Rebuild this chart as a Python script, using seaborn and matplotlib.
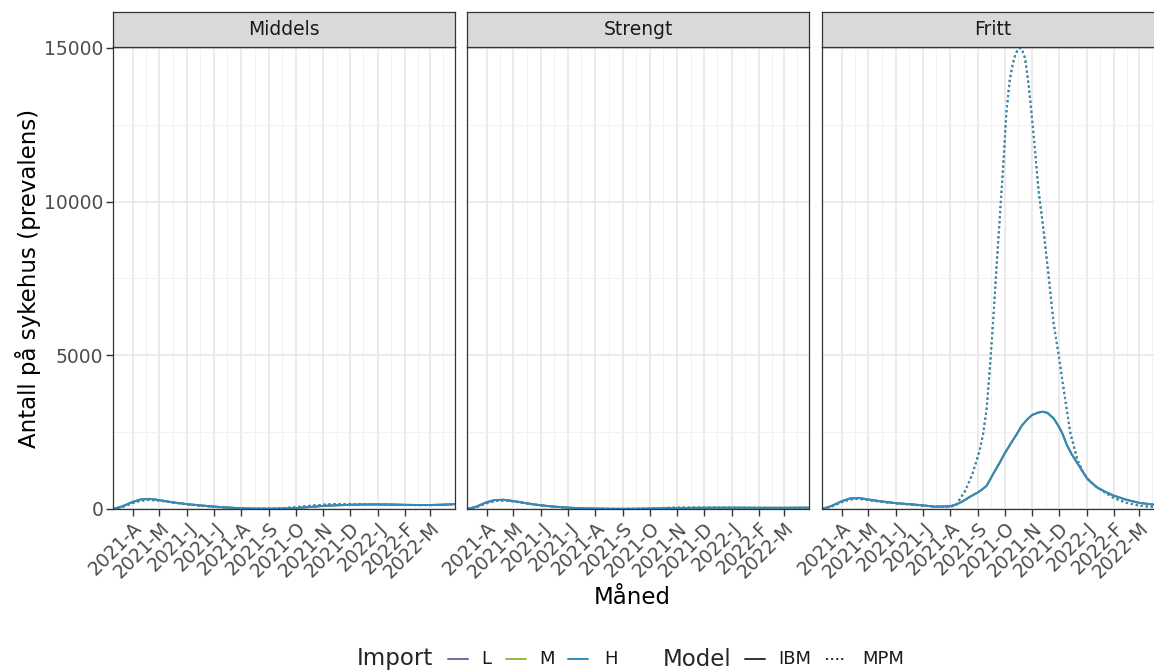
import matplotlib
matplotlib.use("Agg")
import numpy as np
import pandas as pd
import seaborn as sns
import matplotlib.pyplot as plt
import matplotlib.dates as mdates
from matplotlib.lines import Line2D
from matplotlib.ticker import FixedLocator, FixedFormatter

sns.set_theme(style="white")
plt.rcParams["font.family"] = ["DejaVu Sans"]

# ---- data -------------------------------------------------------------
scenarios = ["Middels", "Strengt", "Fritt"]
import_levels = ["L", "M", "H"]
import_colors = ["#6f6a9c", "#93b83c", "#3288c4"]
models = ["IBM", "MPM"]

base_dates = ["2021-03-10", "2021-03-20", "2021-04-01", "2021-04-10", "2021-04-20",
              "2021-05-01", "2021-05-15", "2021-06-01", "2021-06-15", "2021-07-01",
              "2021-07-15", "2021-08-01", "2021-08-15", "2021-09-01", "2021-09-15",
              "2021-10-01", "2021-10-15", "2021-11-01", "2021-11-15", "2021-12-01",
              "2021-12-15", "2022-01-01", "2022-01-15", "2022-02-01", "2022-02-15",
              "2022-03-01", "2022-03-15", "2022-03-29"]

middels_ibm = [0, 80, 230, 310, 330, 290, 220, 160, 120, 80, 50, 25, 12, 8, 12,
               30, 60, 100, 120, 135, 145, 150, 145, 135, 130, 130, 140, 160]
middels_mpm = [0, 60, 190, 270, 295, 270, 215, 150, 110, 70, 45, 20, 10, 10, 25,
               60, 100, 140, 160, 165, 160, 150, 140, 130, 125, 125, 135, 150]

strengt_ibm = [0, 70, 220, 290, 300, 260, 190, 120, 80, 45, 25, 12, 6, 4, 5,
               10, 20, 30, 35, 38, 40, 40, 40, 38, 38, 38, 40, 42]
strengt_mpm = [0, 55, 185, 260, 275, 245, 185, 115, 75, 40, 22, 10, 5, 5, 8,
               20, 35, 45, 48, 48, 45, 42, 40, 38, 36, 36, 38, 40]

fritt_ibm_dates = ["2021-03-10", "2021-03-20", "2021-04-01", "2021-04-10", "2021-04-20",
                   "2021-05-01", "2021-05-15", "2021-06-01", "2021-06-15", "2021-07-01",
                   "2021-07-15", "2021-08-01", "2021-08-08", "2021-08-15", "2021-08-22",
                   "2021-09-01", "2021-09-06", "2021-09-11", "2021-09-18", "2021-09-25",
                   "2021-10-01", "2021-10-08", "2021-10-15", "2021-10-20", "2021-10-26",
                   "2021-11-01", "2021-11-08", "2021-11-13", "2021-11-18", "2021-11-25",
                   "2021-12-01", "2021-12-05", "2021-12-10", "2021-12-15", "2021-12-22",
                   "2021-12-28", "2022-01-02", "2022-01-08", "2022-01-13", "2022-01-22",
                   "2022-02-01", "2022-02-15", "2022-03-01", "2022-03-15", "2022-03-29"]
fritt_ibm = [0, 90, 250, 340, 360, 310, 250, 190, 160, 120, 75, 90, 150, 250, 380,
             540, 640, 760, 1130, 1480, 1800, 2130, 2450, 2700, 2900, 3060, 3140,
             3165, 3130, 2950, 2680, 2450, 2080, 1800, 1480, 1200, 980, 820, 700,
             560, 430, 300, 200, 150, 110]

fritt_mpm_dates = ["2021-03-10", "2021-03-20", "2021-04-01", "2021-04-10", "2021-04-20",
                   "2021-05-01", "2021-05-15", "2021-06-01", "2021-06-15", "2021-07-01",
                   "2021-07-15", "2021-08-01", "2021-08-07", "2021-08-18", "2021-08-26",
                   "2021-09-03", "2021-09-07", "2021-09-11", "2021-09-14", "2021-09-18",
                   "2021-09-22", "2021-09-26", "2021-09-30", "2021-10-03", "2021-10-07",
                   "2021-10-10", "2021-10-13", "2021-10-16", "2021-10-19", "2021-10-21",
                   "2021-10-24", "2021-10-28", "2021-11-03", "2021-11-08", "2021-11-14",
                   "2021-11-19", "2021-11-25", "2021-12-01", "2021-12-07", "2021-12-14",
                   "2021-12-22", "2021-12-29", "2022-01-05", "2022-01-13", "2022-02-01",
                   "2022-02-15", "2022-03-01", "2022-03-15", "2022-03-29"]
fritt_mpm = [0, 70, 220, 310, 330, 290, 235, 180, 150, 110, 75, 80, 110, 600, 1150,
             1900, 2450, 3300, 4400, 6050, 7900, 9650, 11400, 12900, 14000, 14450,
             14780, 14950, 15000, 14900, 14670, 13800, 12050, 10400, 9000, 7700,
             6050, 4960, 3760, 2450, 1580, 1150, 900, 700, 350, 200, 110, 70, 50]

month_ticks = ["2021-04-01", "2021-05-01", "2021-06-01", "2021-07-01", "2021-08-01",
               "2021-09-01", "2021-10-01", "2021-11-01", "2021-12-01", "2022-01-01",
               "2022-02-01", "2022-03-01"]
month_labels = ["2021-A", "2021-M", "2021-J", "2021-J", "2021-A", "2021-S",
                "2021-O", "2021-N", "2021-D", "2022-J", "2022-F", "2022-M"]

y_ticks = [0, 5000, 10000, 15000]
y_minor = [2500, 7500, 12500]

series = {
    ("Middels", "IBM"): (base_dates, middels_ibm),
    ("Middels", "MPM"): (base_dates, middels_mpm),
    ("Strengt", "IBM"): (base_dates, strengt_ibm),
    ("Strengt", "MPM"): (base_dates, strengt_mpm),
    ("Fritt", "IBM"): (fritt_ibm_dates, fritt_ibm),
    ("Fritt", "MPM"): (fritt_mpm_dates, fritt_mpm),
}

rows = []
for (scen, model), (dates, vals) in series.items():
    for imp in import_levels:
        for d, v in zip(dates, vals):
            rows.append({"Scenario": scen, "Model": model, "Import": imp,
                         "Date": pd.Timestamp(d), "Value": v})
df = pd.DataFrame(rows)

# ---- figure -----------------------------------------------------------
W, H = 1154, 670
fig = plt.figure(figsize=(W / 100, H / 100), dpi=100)
fig.patch.set_facecolor("white")


def fx(px):
    return px / W


def fy(py):
    return 1 - py / H


panel_left = [113, 467, 822]
panel_w = 342
panel_top, panel_bottom = 47, 509
strip_top = 12

x_lo, x_hi = pd.Timestamp("2021-03-10"), pd.Timestamp("2022-03-29")
major_num = mdates.date2num(pd.to_datetime(month_ticks))
minor_num = mdates.date2num(pd.date_range("2021-03-16", "2022-03-16", freq="MS")
                            + pd.Timedelta(days=15))

palette = dict(zip(import_levels, import_colors))
dash_map = {"IBM": "", "MPM": (1.1, 1.5)}
txt_grey = "#4d4d4d"
frame = "#333333"

for i, scen in enumerate(scenarios):
    left = panel_left[i]
    ax = fig.add_axes([fx(left), fy(panel_bottom), fx(panel_w),
                       (panel_bottom - panel_top) / H])
    ax.set_facecolor("white")

    # grid
    for m in minor_num:
        ax.axvline(m, color="#f0f0f0", lw=0.6, zorder=0)
    for m in major_num:
        ax.axvline(m, color="#e8e8e8", lw=1.2, zorder=0)
    for yv in y_minor:
        ax.axhline(yv, color="#f0f0f0", lw=0.6, zorder=0)
    for yv in y_ticks:
        ax.axhline(yv, color="#e8e8e8", lw=1.2, zorder=0)

    sub = df[df["Scenario"] == scen]
    sns.lineplot(data=sub, x="Date", y="Value", hue="Import", style="Model",
                 hue_order=import_levels, style_order=models, palette=palette,
                 dashes=dash_map, lw=1.4, legend=False, ax=ax, zorder=3)

    ax.set_xlim(mdates.date2num(x_lo), mdates.date2num(x_hi))
    ax.set_ylim(0, 15030)
    ax.xaxis.set_major_locator(FixedLocator(major_num))
    ax.xaxis.set_major_formatter(FixedFormatter(month_labels))
    ax.xaxis.set_minor_locator(FixedLocator([]))
    ax.tick_params(axis="x", length=5, width=1.0, color=frame, labelsize=13.5,
                   labelcolor=txt_grey, pad=2, bottom=True)
    for lab in ax.get_xticklabels():
        lab.set_rotation(45)
        lab.set_ha("right")
        lab.set_va("top")
        lab.set_rotation_mode("anchor")
    ax.set_xlabel("")
    ax.set_ylabel("")
    if i == 0:
        ax.set_yticks(y_ticks)
        ax.set_yticklabels([str(v) for v in y_ticks])
        ax.tick_params(axis="y", length=5, width=1.0, color=frame, labelsize=13.5,
                       labelcolor=txt_grey, pad=2, left=True)
    else:
        ax.set_yticks([])
    for sp in ax.spines.values():
        sp.set_color(frame)
        sp.set_linewidth(0.9)
        sp.set_zorder(5)

    # facet strip
    sax = fig.add_axes([fx(left), fy(panel_top), fx(panel_w),
                        (panel_top - strip_top) / H])
    sax.set_facecolor("#d9d9d9")
    sax.set_xticks([])
    sax.set_yticks([])
    for sp in sax.spines.values():
        sp.set_color(frame)
        sp.set_linewidth(0.9)
    sax.text(0.5, 0.5, scen, ha="center", va="center", fontsize=13.5,
             color="#1a1a1a", transform=sax.transAxes)

# axis titles
fig.text(fx(28), fy(278), "Antall på sykehus (prevalens)", rotation=90,
         ha="center", va="center", fontsize=16.5, color="black")
fig.text(fx(632), fy(598), "Måned", ha="center", va="center", fontsize=16.5,
         color="black")

# legend
ly = fy(659)
fig.text(fx(357), ly, "Import", ha="left", va="center", fontsize=16.5)
key_x = [448, 506, 568]
lab_x = [481, 539, 604]
for kx, tx, lab, col in zip(key_x, lab_x, import_levels, import_colors):
    fig.add_artist(Line2D([fx(kx), fx(kx + 20)], [ly, ly], color=col, lw=1.4,
                          transform=fig.transFigure))
    fig.text(fx(tx), ly, lab, ha="left", va="center", fontsize=13, color="#1a1a1a")

fig.text(fx(663), ly, "Model", ha="left", va="center", fontsize=16.5)
fig.add_artist(Line2D([fx(745), fx(765)], [ly, ly], color="#333333", lw=1.4,
                      transform=fig.transFigure))
fig.text(fx(778), ly, "IBM", ha="left", va="center", fontsize=13, color="#1a1a1a")
fig.add_artist(Line2D([fx(826), fx(846)], [ly, ly], color="#333333", lw=1.4,
                      dashes=(1.1, 1.5), transform=fig.transFigure))
fig.text(fx(862), ly, "MPM", ha="left", va="center", fontsize=13, color="#1a1a1a")

fig.savefig("out.png", dpi=100, facecolor="white")
